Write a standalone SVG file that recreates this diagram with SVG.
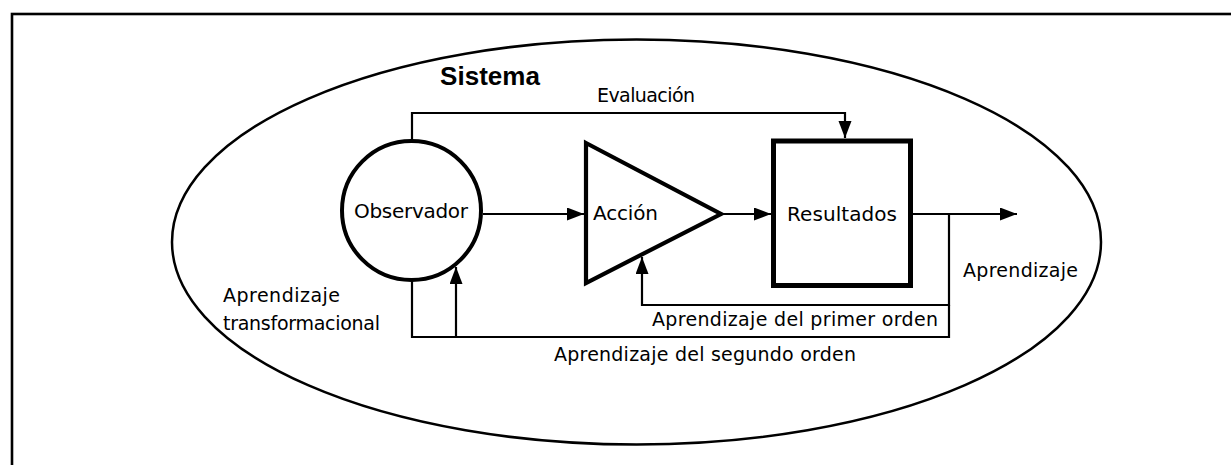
<svg xmlns="http://www.w3.org/2000/svg" width="1231" height="465" viewBox="0 0 1231 465">
<style>
  .lbl { font-family: "DejaVu Sans", "Liberation Sans", sans-serif; font-size: 19px; fill: #000; }
  .nlbl { font-family: "DejaVu Sans", "Liberation Sans", sans-serif; font-size: 20px; fill: #000; }
  .title { font-family: "Liberation Sans", Arial, sans-serif; font-size: 26px; font-weight: bold; fill: #000; }
  .conn { fill: none; stroke: #000; stroke-width: 2.2; }
  .shape { fill: #fff; stroke: #000; }
</style>
<defs>
  <marker id="arr" markerUnits="userSpaceOnUse" markerWidth="18" markerHeight="14" refX="17" refY="6.5" orient="auto">
    <path d="M0,0 L17,6.5 L0,13 z" fill="#000"/>
  </marker>
</defs>
<rect x="0" y="0" width="1231" height="465" fill="#fff"/>
<rect id="frame" x="12" y="14" width="1240" height="470" fill="none" stroke="#000" stroke-width="2.6"/>
<g id="sistema">
  <ellipse cx="636.5" cy="242" rx="464.5" ry="202.5" fill="none" stroke="#000" stroke-width="2.5"/>
  <text class="title" x="440" y="85" textLength="100">Sistema</text>
</g>
<g id="connectors">
  <path class="conn" d="M412,141 V113 H845 V138" marker-end="url(#arr)"/>
  <path class="conn" d="M483,214 H584" marker-end="url(#arr)"/>
  <path class="conn" d="M721,214 H771" marker-end="url(#arr)"/>
  <path class="conn" d="M913,214 H1017" marker-end="url(#arr)"/>
  <path class="conn" d="M949,214 V305 H642 V257" marker-end="url(#arr)"/>
  <path class="conn" d="M949,305 V337 H412 V225" marker-end="url(#arr)"/>
  <path class="conn" d="M456,337 V267" marker-end="url(#arr)"/>
</g>
<g id="observador">
  <circle class="shape" cx="411.5" cy="210.5" r="69.5" stroke-width="4"/>
  <text class="nlbl" x="354" y="218" textLength="114">Observador</text>
</g>
<g id="accion">
  <polygon class="shape" points="586,143 721,214 586,283" stroke-width="4.2" stroke-linejoin="miter"/>
  <text class="nlbl" x="593" y="220" textLength="65">Acción</text>
</g>
<g id="resultados">
  <rect class="shape" x="773.5" y="141" width="137" height="144.5" stroke-width="5"/>
  <text class="nlbl" x="787" y="221" textLength="110">Resultados</text>
</g>
<g id="labels">
  <text class="lbl" x="597" y="102" textLength="98">Evaluación</text>
  <text class="lbl" x="963" y="277" textLength="115">Aprendizaje</text>
  <text class="lbl" x="652" y="326" textLength="286">Aprendizaje del primer orden</text>
  <text class="lbl" x="554" y="361" textLength="302">Aprendizaje del segundo orden</text>
  <text class="lbl" x="223" y="302" textLength="117">Aprendizaje</text>
  <text class="lbl" x="223" y="330" textLength="157">transformacional</text>
</g>
</svg>
